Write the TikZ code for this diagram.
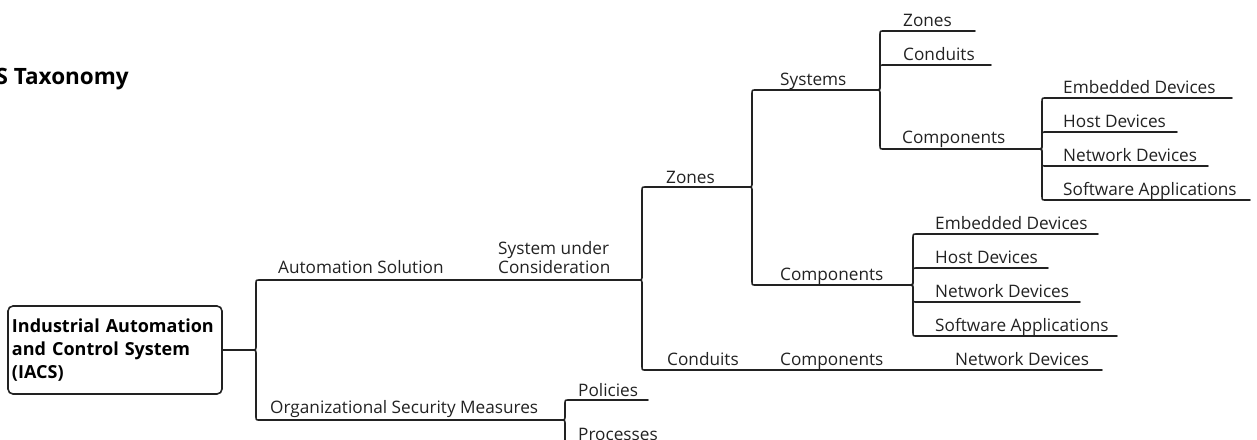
\documentclass[tikz,border=0pt]{standalone}
\usepackage{fontspec}
\setmainfont{Open Sans}
\usetikzlibrary{calc}
\definecolor{ink}{HTML}{222222}
\tikzset{
  conn/.style={draw=ink, line width=1.6pt, line cap=round, line join=round},
  topic/.style={inner sep=0pt, anchor=base west, text=ink, font=\fontsize{17.2}{18.5}\selectfont},
  rootbox/.style={draw=ink, line width=1.6pt, rounded corners=5pt, text=black,
    font=\bfseries\fontsize{18}{23}\selectfont, align=left, text width=206pt,
    minimum width=214pt, minimum height=88pt, inner xsep=4pt, inner ysep=0pt},
  titlestyle/.style={inner sep=0pt, anchor=base east, text=black, font=\bfseries\fontsize{22.5}{26}\selectfont}
}
\newcommand\twig[2]{%
  \draw[conn] let \p1=(#1), \p2=(#2) in
    (\p1) .. controls ({\x1+4pt},\y1) .. ({\x1+4pt},{\y1+5pt*sign(\y2-\y1)})
    -- ({\x1+4pt},{\y2-4pt*sign(\y2-\y1)}) .. controls ({\x1+4pt},\y2) .. ({\x1+8pt},\y2) -- (\p2);}
\begin{document}
\begin{tikzpicture}[x=1pt,y=-1pt]
\useasboundingbox (0,0) rectangle (1257,439);

% title
\node[titlestyle] (title) at (129,84) {IACS Taxonomy};

% root
\node[rootbox] (root) at (115,350) {Industrial Automation\\and Control System\\(IACS)};
\coordinate (rootTip) at (252,350);
\draw[conn] (root.east) -- (rootTip);

% level 1
\node[topic] (as) at (278,273) {Automation Solution};
\coordinate (asEnd) at (488,280);
\node[topic, align=left] (suc) at (498,273) {System under\\Consideration};
\coordinate (sucTip) at (638,280);
\twig{rootTip}{asEnd}
\draw[conn] (asEnd) -- (sucTip);

\node[topic] (org) at (270,413) {Organizational Security Measures};
\coordinate (orgTip) at (561,420);
\twig{rootTip}{orgTip}

% org children
\node[topic] (pol) at (578,396) {Policies};
\coordinate (polEnd) at (648,400);
\node[topic] (proc) at (578,440) {Processes};
\coordinate (procEnd) at (668,444);
\twig{orgTip}{polEnd}
\twig{orgTip}{procEnd}

% SUC children
\node[topic] (zn) at (666,183) {Zones};
\coordinate (znTip) at (748,187);
\twig{sucTip}{znTip}

\node[topic] (cd) at (667,365) {Conduits};
\coordinate (cdEnd) at (760,370);
\node[topic] (cdc) at (780,365) {Components};
\coordinate (cdcEnd) at (930,370);
\node[topic] (cdn) at (955,365) {Network Devices};
\coordinate (cdnEnd) at (1102,370);
\twig{sucTip}{cdEnd}
\draw[conn] (cdEnd) -- (cdcEnd) -- (cdnEnd);

% Zones children
\node[topic] (sys) at (780,85) {Systems};
\coordinate (sysTip) at (876,90);
\twig{znTip}{sysTip}
\node[topic] (zc) at (780,280) {Components};
\coordinate (zcTip) at (909,285);
\twig{znTip}{zcTip}

% Systems children
\node[topic] (sz) at (903,26) {Zones};
\coordinate (szEnd) at (975,31);
\twig{sysTip}{szEnd}
\node[topic] (sc) at (903,60) {Conduits};
\coordinate (scEnd) at (991,65);
\twig{sysTip}{scEnd}
\node[topic] (scp) at (902,143) {Components};
\coordinate (scpTip) at (1038,149);
\twig{sysTip}{scpTip}

% Systems > Components children
\node[topic] (a1) at (1063,93) {Embedded Devices};
\coordinate (a1e) at (1232,98);
\node[topic] (a2) at (1063,127) {Host Devices};
\coordinate (a2e) at (1177,132);
\node[topic] (a3) at (1063,161) {Network Devices};
\coordinate (a3e) at (1208,166);
\node[topic] (a4) at (1063,195) {Software Applications};
\coordinate (a4e) at (1250,200);
\twig{scpTip}{a1e}
\twig{scpTip}{a2e}
\twig{scpTip}{a3e}
\twig{scpTip}{a4e}

% Zones > Components children
\node[topic] (b1) at (935,229) {Embedded Devices};
\coordinate (b1e) at (1098,234);
\node[topic] (b2) at (935,263) {Host Devices};
\coordinate (b2e) at (1048,268);
\node[topic] (b3) at (935,297) {Network Devices};
\coordinate (b3e) at (1080,302);
\node[topic] (b4) at (935,331) {Software Applications};
\coordinate (b4e) at (1117,336);
\twig{zcTip}{b1e}
\twig{zcTip}{b2e}
\twig{zcTip}{b3e}
\twig{zcTip}{b4e}
\end{tikzpicture}
\end{document}
